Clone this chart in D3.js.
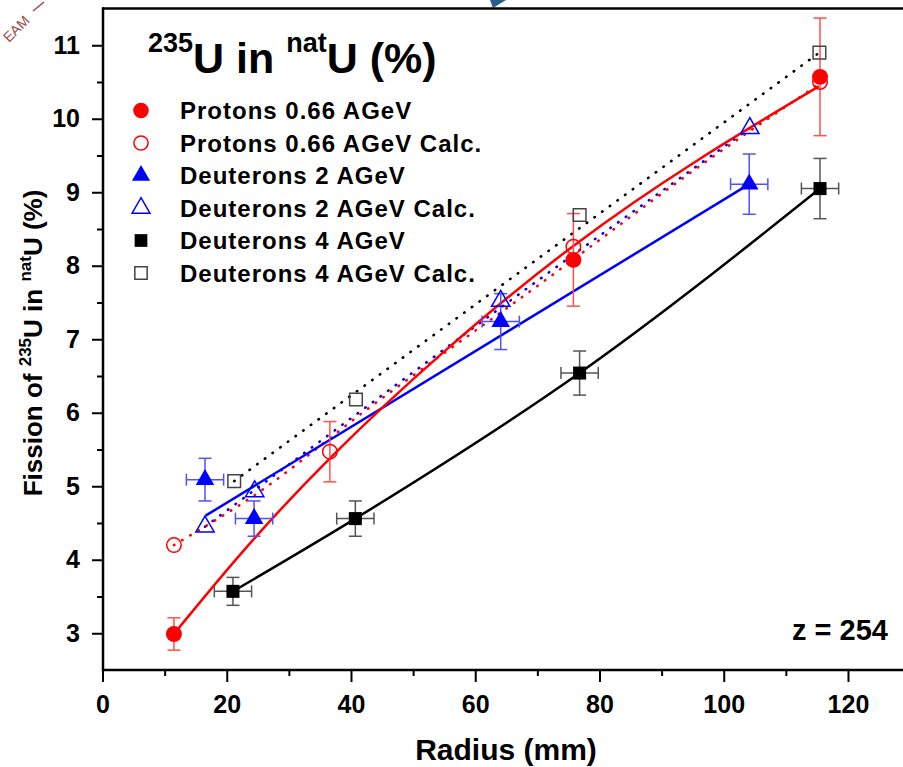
<!DOCTYPE html>
<html>
<head>
<meta charset="utf-8">
<script src="https://cdnjs.cloudflare.com/ajax/libs/d3/7.8.5/d3.min.js"></script>
<style>
  body { margin: 0; background: #fff; }
  svg text { font-family: "Liberation Sans", Arial, Helvetica, sans-serif; font-weight: bold; fill: #000; }
</style>
</head>
<body>
<div id="chart"></div>
<script>
// ---- data ----
let xTicks = [0, 20, 40, 60, 80, 100, 120];
let xMinor = [10, 30, 50, 70, 90, 110, 130];
let yTicks = [3, 4, 5, 6, 7, 8, 9, 10, 11];
let yMinor = [3.5, 4.5, 5.5, 6.5, 7.5, 8.5, 9.5, 10.5];

// Protons 0.66 AGeV (measured)
let protonX = [11.5, 75.8, 115.5];
let protonY = [2.99, 8.08, 10.57];
let protonErr = [0.22, 0.63, 0.80];

// Protons 0.66 AGeV Calc.
let protonCalcX = [11.5, 36.6, 75.8, 115.5];
let protonCalcY = [4.20, 5.47, 8.26, 10.50];
let protonCalcErr = [0, 0.41, 0, 0];

// Deuterons 2 AGeV
let d2X = [16.5, 24.4, 64.1, 104.1];
let d2Y = [5.09, 4.56, 7.24, 9.11];
let d2Err = [0.29, 0.24, 0.38, 0.41];
let d2XErr = [3, 3, 3, 3];

// Deuterons 2 AGeV Calc.
let d2CalcX = [16.5, 24.5, 64.1, 104.2];
let d2CalcY = [4.45, 4.93, 7.52, 9.87];

// Deuterons 4 AGeV
let d4X = [21.0, 40.7, 76.8, 115.5];
let d4Y = [3.57, 4.56, 6.54, 9.05];
let d4Err = [0.19, 0.24, 0.30, 0.41];
let d4XErr = [3, 3, 3, 3];

// Deuterons 4 AGeV Calc.
let d4CalcX = [21.2, 40.8, 76.8, 115.4];
let d4CalcY = [5.07, 6.18, 8.69, 10.90];

// fitted curves as they appear in the picture
let protonFitX = [11.5, 36.6, 75.8, 115.3];
let protonFitY = [2.99, 5.38, 8.27, 10.44];
let protonCalcFitX = [11.5, 24.5, 42.8, 70.9, 97.2, 115.5];
let protonCalcFitY = [4.20, 4.88, 6.06, 7.78, 9.42, 10.48];
let d2FitX = [16.6, 104.1];
let d2FitY = [4.60, 9.11];
let d2CalcFitX = [16.5, 24.5, 42.8, 70.9, 104.2];
let d2CalcFitY = [4.45, 4.95, 6.10, 7.85, 9.87];
let d4CalcFitX = [21.2, 115.4];
let d4CalcFitY = [5.07, 10.90];

let legendLabels = ["Protons 0.66 AGeV", "Protons 0.66 AGeV Calc.", "Deuterons 2 AGeV",
  "Deuterons 2 AGeV Calc.", "Deuterons 4 AGeV", "Deuterons 4 AGeV Calc."];

// ---- setup ----
let width = 903;
let height = 767;
let svg = d3.select('#chart').append('svg')
  .attr('width', width)
  .attr('height', height);

let x = d3.scaleLinear().domain([0, 130]).range([102.5, 910.1]);
let y = d3.scaleLinear().domain([2.5, 11.5]).range([670, 8.5]);

let zip = (xs, ys) => xs.map((v, i) => [v, ys[i]]);

// little watermark bits at the top of the original
svg.append('text')
  .attr('transform', 'translate(9,43) rotate(-45)')
  .style('font-size', '14px').style('font-weight', 'normal')
  .style('fill', '#9b4a4a')
  .text('EAM');
svg.append('line')
  .attr('x1', 33).attr('y1', 11).attr('x2', 44).attr('y2', 2)
  .attr('stroke', '#9b4a4a').attr('stroke-width', 1.5);
svg.append('path')
  .attr('d', 'M490,0 L506,0 L493,8 Z')
  .attr('fill', '#2b5d8c');

// ---- axes ----
let gx = svg.append('g').attr('transform', 'translate(0,670)')
  .call(d3.axisBottom(x).tickValues(xTicks).tickSize(12).tickPadding(13).tickSizeOuter(0));
svg.append('g').attr('transform', 'translate(0,670)')
  .call(d3.axisBottom(x).tickValues(xMinor).tickSize(6).tickFormat('').tickSizeOuter(0));
let gy = svg.append('g').attr('transform', 'translate(103,0)')
  .call(d3.axisLeft(y).tickValues(yTicks).tickSize(11).tickPadding(12).tickSizeOuter(0));
svg.append('g').attr('transform', 'translate(103,0)')
  .call(d3.axisLeft(y).tickValues(yMinor).tickSize(6).tickFormat('').tickSizeOuter(0));

svg.selectAll('.domain').remove();
svg.selectAll('.tick line').attr('stroke', '#000').attr('stroke-width', 2);
gx.selectAll('text').style('font-size', '25px');
gy.selectAll('text').style('font-size', '25px');

// frame
svg.append('line').attr('x1', 103).attr('x2', 103).attr('y1', 7.5).attr('y2', 671)
  .attr('stroke', '#000').attr('stroke-width', 2.5);
svg.append('line').attr('x1', 102).attr('x2', 903).attr('y1', 670).attr('y2', 670)
  .attr('stroke', '#000').attr('stroke-width', 2.5);
svg.append('line').attr('x1', 102).attr('x2', 903).attr('y1', 8.5).attr('y2', 8.5)
  .attr('stroke', '#000').attr('stroke-width', 2.5);

// axis titles
svg.append('text')
  .attr('x', 506).attr('y', 760)
  .attr('text-anchor', 'middle')
  .style('font-size', '30px')
  .text('Radius (mm)');

let ylab = svg.append('text')
  .attr('transform', 'translate(42,343) rotate(-90)')
  .attr('text-anchor', 'middle')
  .style('font-size', '26px');
ylab.append('tspan').text('Fission of ');
ylab.append('tspan').attr('dy', -11).style('font-size', '17px').text('235');
ylab.append('tspan').attr('dy', 11).text('U in ');
ylab.append('tspan').attr('dy', -11).style('font-size', '17px').text('nat');
ylab.append('tspan').attr('dy', 11).text('U (%)');

// title
let title = svg.append('text').attr('x', 148).attr('y', 73).style('font-size', '43px');
title.append('tspan').attr('dy', -21).style('font-size', '27px').text('235');
title.append('tspan').attr('dy', 21).text('U in ');
title.append('tspan').attr('dy', -21).style('font-size', '27px').text('nat');
title.append('tspan').attr('dy', 21).text('U (%)');

svg.append('text')
  .attr('x', 888).attr('y', 640)
  .attr('text-anchor', 'end')
  .style('font-size', '29px')
  .text('z = 254');

// ---- curves ----
let line = d3.line().x(d => x(d[0])).y(d => y(d[1]));

function drawCurve(xs, ys, color, curve, dotted) {
  svg.append('path')
    .datum(zip(xs, ys))
    .attr('fill', 'none')
    .attr('stroke', color)
    .attr('stroke-width', dotted ? 2.6 : 2.5)
    .attr('stroke-linecap', dotted ? 'round' : 'butt')
    .attr('stroke-dasharray', dotted ? '0.5,9' : null)
    .attr('d', line.curve(curve));
}

drawCurve(d4CalcFitX, d4CalcFitY, '#000', d3.curveLinear, true);
drawCurve(d2CalcFitX, d2CalcFitY, '#0000ff', d3.curveMonotoneX, true);
drawCurve(protonCalcFitX, protonCalcFitY, '#ff0000', d3.curveMonotoneX, true);
drawCurve(d4X, d4Y, '#000', d3.curveMonotoneX, false);
drawCurve(d2FitX, d2FitY, '#0000ff', d3.curveLinear, false);
drawCurve(protonFitX, protonFitY, '#ff0000', d3.curveNatural, false);

// ---- error bars ----
function errorBars(xs, ys, yerr, xerr, color) {
  let g = svg.append('g').attr('stroke', color).attr('stroke-width', 1.5).attr('fill', 'none');
  xs.forEach(function(xv, i) {
    let e = yerr[i];
    if (e > 0) {
      g.append('line').attr('x1', x(xv)).attr('x2', x(xv)).attr('y1', y(ys[i] - e)).attr('y2', y(ys[i] + e));
      g.append('line').attr('x1', x(xv) - 6.5).attr('x2', x(xv) + 6.5).attr('y1', y(ys[i] - e)).attr('y2', y(ys[i] - e));
      g.append('line').attr('x1', x(xv) - 6.5).attr('x2', x(xv) + 6.5).attr('y1', y(ys[i] + e)).attr('y2', y(ys[i] + e));
    }
    if (xerr && xerr[i] > 0) {
      let ex = xerr[i];
      g.append('line').attr('x1', x(xv - ex)).attr('x2', x(xv + ex)).attr('y1', y(ys[i])).attr('y2', y(ys[i]));
      g.append('line').attr('x1', x(xv - ex)).attr('x2', x(xv - ex)).attr('y1', y(ys[i]) - 6).attr('y2', y(ys[i]) + 6);
      g.append('line').attr('x1', x(xv + ex)).attr('x2', x(xv + ex)).attr('y1', y(ys[i]) - 6).attr('y2', y(ys[i]) + 6);
    }
  });
}

errorBars(protonX, protonY, protonErr, null, '#ff5050');
errorBars(protonCalcX, protonCalcY, protonCalcErr, null, '#ff5050');
errorBars(d2X, d2Y, d2Err, d2XErr, '#5050ff');
errorBars(d4X, d4Y, d4Err, d4XErr, '#555');

// ---- markers ----
let markers = [
  { xs: protonX, ys: protonY, type: d3.symbolCircle, size: 200, fill: '#ff0000', stroke: 'none' },
  { xs: protonCalcX, ys: protonCalcY, type: d3.symbolCircle, size: 165, fill: 'none', stroke: '#ff0000' },
  { xs: d2X, ys: d2Y, type: d3.symbolTriangle, size: 150, fill: '#0000ff', stroke: 'none' },
  { xs: d2CalcX, ys: d2CalcY, type: d3.symbolTriangle, size: 145, fill: 'none', stroke: '#0000ff' },
  { xs: d4X, ys: d4Y, type: d3.symbolSquare, size: 170, fill: '#000', stroke: 'none' },
  { xs: d4CalcX, ys: d4CalcY, type: d3.symbolSquare, size: 160, fill: 'none', stroke: '#444' }
];

markers.forEach(function(m) {
  svg.append('g').selectAll('path')
    .data(zip(m.xs, m.ys))
    .enter()
    .append('path')
    .attr('transform', d => 'translate(' + x(d[0]) + ',' + y(d[1]) + ')')
    .attr('d', d3.symbol().type(m.type).size(m.size))
    .attr('fill', m.fill)
    .attr('stroke', m.stroke)
    .attr('stroke-width', 1.5);
});

// ---- legend ----
let legend = svg.append('g');
legendLabels.forEach(function(lab, i) {
  let m = markers[i];
  let ly = 110.5 + i * 32.5;
  legend.append('path')
    .attr('transform', 'translate(141,' + ly + ')')
    .attr('d', d3.symbol().type(m.type).size(m.size * 0.95))
    .attr('fill', m.fill)
    .attr('stroke', m.stroke)
    .attr('stroke-width', 1.5);
  legend.append('text')
    .attr('x', 180).attr('y', ly + 8.5)
    .style('font-size', '24px')
    .style('letter-spacing', '1px')
    .text(lab);
});
</script>
</body>
</html>
